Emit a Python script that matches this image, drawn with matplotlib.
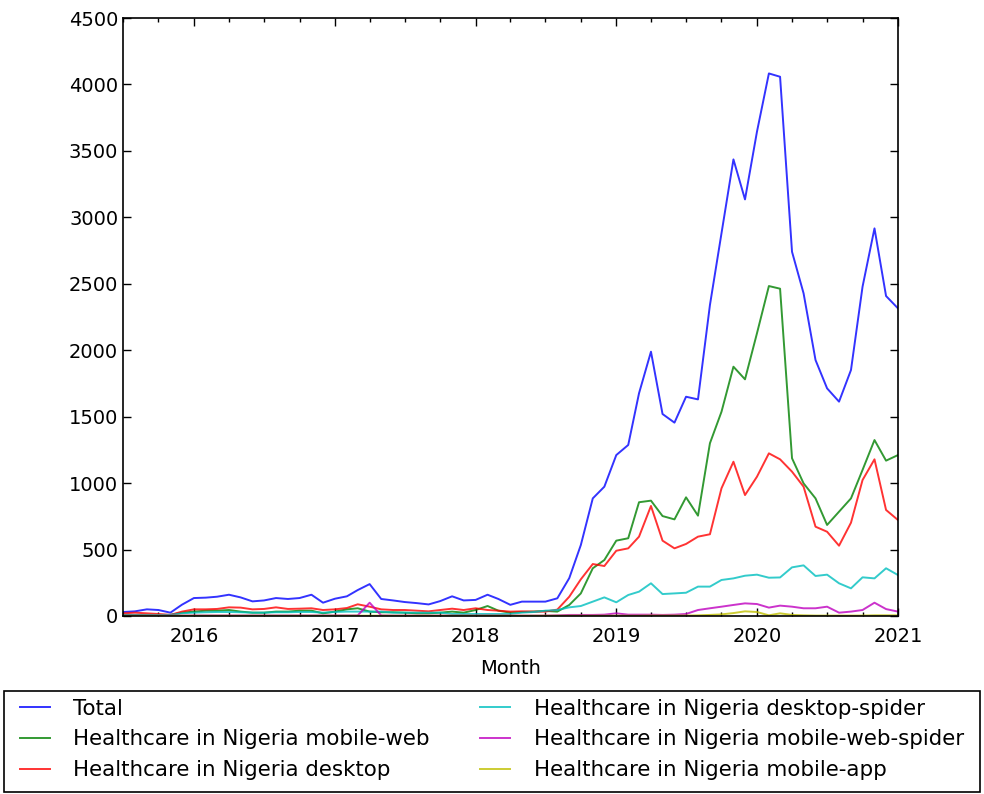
import matplotlib
matplotlib.use("Agg")
import matplotlib.pyplot as plt
import matplotlib.dates as mdates
from matplotlib.patches import Rectangle
import pandas as pd

months = pd.date_range("2015-07-01", periods=67, freq="MS")

total = [30, 35, 50, 45, 25, 85, 135, 138, 145, 160,
         140, 110, 117, 135, 128, 135, 160, 100, 130, 148,
         195, 240, 128, 117, 105, 97, 87, 112, 148, 117,
         121, 160, 128, 84, 108, 108, 108, 133, 285, 534,
         885, 973, 1211, 1287, 1676, 1989, 1520, 1455, 1650, 1630,
         2340, 2880, 3436, 3135, 3644, 4083, 4058, 2741, 2428, 1926,
         1713, 1613, 1851, 2478, 2917, 2408, 2315]

mobile_web = [8, 8, 8, 8, 8, 25, 33, 40, 40, 45,
              33, 25, 25, 33, 33, 40, 40, 20, 33, 50,
              58, 33, 28, 28, 25, 20, 20, 25, 33, 25,
              45, 75, 40, 25, 30, 33, 38, 33, 83, 170,
              359, 421, 567, 585, 856, 868, 752, 727, 893, 755,
              1300, 1537, 1876, 1781, 2127, 2483, 2463, 1187, 998, 885,
              685, 785, 885, 1099, 1324, 1169, 1211]

desktop = [20, 25, 20, 15, 8, 33, 50, 50, 53, 65,
           63, 50, 53, 65, 53, 55, 58, 45, 50, 60,
           88, 70, 50, 45, 45, 40, 35, 45, 55, 45,
           58, 45, 40, 33, 35, 33, 33, 48, 145, 276,
           391, 376, 491, 509, 597, 828, 567, 509, 542, 597,
           615, 961, 1161, 910, 1048, 1224, 1179, 1086, 973, 672,
           634, 529, 702, 1023, 1179, 798, 722]

desktop_spider = [8, 8, 8, 8, 8, 20, 25, 28, 30, 30,
                  28, 25, 25, 28, 28, 30, 30, 25, 30, 33,
                  33, 33, 33, 25, 25, 25, 25, 25, 15, 15,
                  15, 15, 15, 15, 25, 30, 40, 45, 65, 75,
                  108, 140, 103, 158, 183, 246, 165, 170, 175, 221,
                  221, 271, 283, 303, 311, 288, 290, 366, 381, 301,
                  311, 246, 208, 291, 283, 359, 308]

mobile_web_spider = [3, 3, 3, 3, 3, 3, 4, 4, 4, 4,
                     4, 4, 4, 4, 4, 4, 4, 4, 4, 4,
                     4, 100, 4, 3, 3, 3, 3, 3, 3, 3,
                     3, 3, 3, 3, 3, 3, 3, 5, 8, 8,
                     8, 10, 20, 10, 10, 10, 8, 10, 15, 45,
                     58, 70, 83, 95, 90, 63, 78, 70, 58, 58,
                     70, 25, 33, 45, 100, 52, 33]

mobile_app = [2, 2, 2, 2, 2, 2, 2, 2, 2, 2,
              2, 2, 2, 2, 2, 2, 2, 2, 2, 2,
              2, 2, 2, 2, 2, 2, 2, 2, 2, 2,
              2, 2, 2, 2, 2, 2, 2, 2, 2, 2,
              2, 2, 2, 2, 2, 3, 3, 3, 3, 5,
              8, 12, 22, 35, 30, 5, 20, 8, 5, 3,
              3, 3, 3, 3, 5, 5, 5]

series = [
    ("Total", total, "b"),
    ("Healthcare in Nigeria mobile-web", mobile_web, "g"),
    ("Healthcare in Nigeria desktop", desktop, "r"),
    ("Healthcare in Nigeria desktop-spider", desktop_spider, "c"),
    ("Healthcare in Nigeria mobile-web-spider", mobile_web_spider, "m"),
    ("Healthcare in Nigeria mobile-app", mobile_app, "y"),
]

W, H = 984, 794
plt.rcParams["font.family"] = ["DejaVu Sans"]
fig = plt.figure(figsize=(W / 100, H / 100), dpi=100, facecolor="white")
ax = fig.add_axes([0.125, 0.2242, 0.7876, 0.7531])

for label, vals, col in series:
    ax.plot(months, vals, color=col, alpha=0.8, lw=1.4, label=label)

ax.set_xlim(months[0], months[-1])
ax.set_ylim(0, 4500)
ax.set_yticks(range(0, 4501, 500))
ax.xaxis.set_major_locator(mdates.YearLocator())
ax.xaxis.set_major_formatter(mdates.DateFormatter("%Y"))
ax.xaxis.set_minor_locator(mdates.MonthLocator(bymonth=(1, 4, 7, 10)))
ax.tick_params(which="both", direction="in", top=True, right=True, labelsize=14)
ax.tick_params(which="major", length=6, width=1)
ax.tick_params(which="minor", length=3, width=1)
ax.tick_params(axis="x", pad=8)
for s in ax.spines.values():
    s.set_linewidth(1.2)
ax.set_xlabel("Month", fontsize=14, labelpad=9)

fs = 15.4
bp = 0.46
pad_px = bp * fs * 100 / 72
x0 = (20 - pad_px) / W
wid = (944 + 2 * pad_px) / W
leg = fig.legend(loc="lower left", bbox_to_anchor=(x0, 0.005, wid, 0.1),
                 mode="expand", ncol=2, fontsize=fs, frameon=False,
                 handlelength=1.4, handletextpad=1.1,
                 borderpad=bp, labelspacing=0.5, borderaxespad=0.0)

frame = Rectangle((4 / W, 2 / H), 976 / W, 101 / H, transform=fig.transFigure,
                  fill=False, edgecolor="black", linewidth=1.2)
fig.patches.append(frame)

fig.savefig("out.png", dpi=100, facecolor="white")
